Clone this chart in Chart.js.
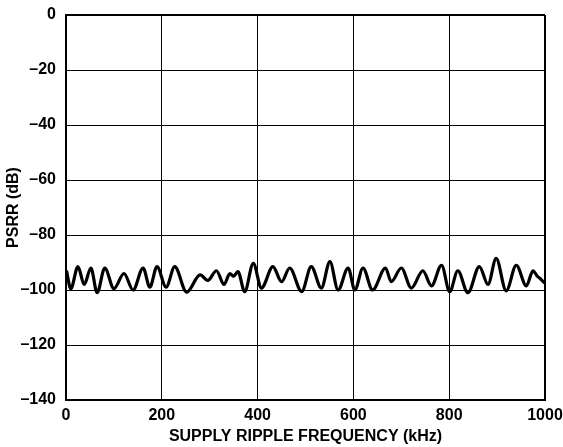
<!DOCTYPE html>
<html>
<head>
<meta charset="utf-8">
<script src="https://cdn.jsdelivr.net/npm/chart.js@4/dist/chart.umd.min.js"></script>
<style>
  html, body { margin: 0; padding: 0; background: #fff; }
  #wrap { width: 563px; height: 447px; }
</style>
</head>
<body>
<div id="wrap"><canvas id="psrrChart"></canvas></div>
<script>
// supply ripple frequency (kHz) and measured PSRR (dB)
const freqKHz = [1, 10, 25, 38, 52, 65, 81, 100, 121, 140, 161, 175, 190, 209, 227, 252,
  280, 296, 314, 330, 342, 350, 359, 373, 391, 408, 432, 450, 467, 492, 512, 533, 551,
  568, 589, 603, 620, 640, 667, 679, 700, 721, 745, 763, 784, 801, 818, 839, 863, 881,
  898, 919, 940, 961, 975, 984, 991, 999];
const psrrDb = [-93, -99.5, -91.5, -98, -92, -101, -92, -99.5, -94, -100, -92, -99, -91.5, -99, -91.5, -100.8,
  -94.5, -96.5, -93, -98, -94, -95, -93.3, -100.6, -90.3, -99.3, -91.5, -97, -92, -100.6, -91.5, -99.3, -89.7,
  -100, -92, -100, -92, -100, -92, -97, -92, -99.3, -93, -98.5, -91, -100.6, -93, -101, -91.5, -98,
  -88.5, -100.3, -91, -98.5, -93, -95, -96, -97.5];

const xTicks = [0, 200, 400, 600, 800, 1000];
const yTicks = [0, -20, -40, -60, -80, -100, -120, -140];

const points = freqKHz.map((f, i) => ({ x: f, y: psrrDb[i] }));
const font = { family: "'Liberation Sans', Arial, sans-serif", weight: 'bold', size: 16 };

// outer edges of the plot get the heavier frame line
function gridWidth(ctx, edges) {
  return edges.indexOf(ctx.tick && ctx.tick.value) >= 0 ? 2 : 1;
}

new Chart(document.getElementById('psrrChart'), {
  type: 'line',
  data: {
    datasets: [{
      data: points,
      borderColor: '#000',
      borderWidth: 3.2,
      pointRadius: 0,
      cubicInterpolationMode: 'monotone',
      fill: false
    }]
  },
  options: {
    responsive: true,
    maintainAspectRatio: false,
    animation: false,
    layout: { padding: { top: 15, right: 18, left: 0, bottom: 0 } },
    plugins: { legend: { display: false }, tooltip: { enabled: false } },
    scales: {
      x: {
        type: 'linear',
        min: xTicks[0],
        max: xTicks[xTicks.length - 1],
        afterBuildTicks: s => { s.ticks = xTicks.map(v => ({ value: v })); },
        afterFit: s => { s.height = 47; s.paddingLeft = 0; s.paddingRight = 0; },
        ticks: { color: '#000', font: font, padding: 6, maxRotation: 0, callback: v => String(v) },
        grid: { color: '#000', lineWidth: c => gridWidth(c, [0, 1000]), drawTicks: false },
        border: { color: '#000', width: 2 },
        title: { display: true, text: 'SUPPLY RIPPLE FREQUENCY (kHz)', color: '#000', font: font, padding: { top: 0, bottom: 1 } }
      },
      y: {
        min: -140,
        max: 0,
        afterBuildTicks: s => { s.ticks = yTicks.map(v => ({ value: v })); },
        afterFit: s => { s.width = 66; s.paddingTop = 0; s.paddingBottom = 0; },
        ticks: {
          color: '#000', font: font, padding: 10,
          callback: v => String(v).replace('-', '\u2013')
        },
        grid: { color: '#000', lineWidth: c => gridWidth(c, [0, -140]), drawTicks: false },
        border: { color: '#000', width: 2 },
        title: { display: true, text: 'PSRR (dB)', color: '#000', font: font, padding: { top: 4, bottom: 0 } }
      }
    }
  }
});
</script>
</body>
</html>
